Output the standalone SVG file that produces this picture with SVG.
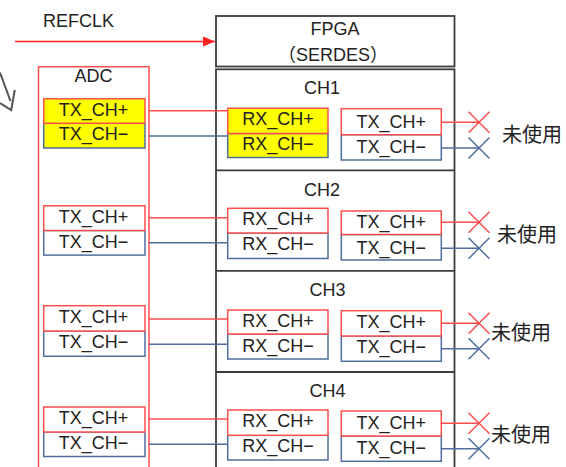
<svg xmlns="http://www.w3.org/2000/svg" width="566" height="467" viewBox="0 0 566 467">
<defs>
<marker id="ah" markerWidth="12" markerHeight="10" refX="12" refY="5" orient="auto" markerUnits="userSpaceOnUse">
<path d="M0,0 L12,5 L0,10 Z" fill="#ff2020"/>
</marker>
</defs>
<style>
text{font-family:"Liberation Sans","Noto Sans CJK JP",sans-serif;font-size:18px;fill:#222;text-anchor:middle}
.j{font-family:"Noto Sans CJK JP",sans-serif;font-size:20px;text-anchor:start}
.l{text-anchor:start}
.bp{fill:#fff;stroke:#ff4d4d;stroke-width:1.5}
.bm{fill:#fff;stroke:#4f6e9e;stroke-width:1.5}
.y{fill:#ffff00}
.fp{fill:#fff;stroke:#3c3c3c;stroke-width:1.8}
.rl{stroke:#ff4d4d;stroke-width:1.5;fill:none}
.bl{stroke:#4f6e9e;stroke-width:1.5;fill:none}
</style>
<rect width="566" height="467" fill="#fff"/>
<g id="arrow-icon" fill="none" stroke="#555" stroke-width="2">
<path d="M0,72.5 L10.5,101"/>
<path d="M14.8,90 L11.2,110 L0,103"/>
</g>
<g id="refclk"><text x="78.5" y="27">REFCLK</text></g>
<g id="fpga">
<rect class="fp" x="216" y="16" width="238.5" height="50.5"/>
<text x="335" y="35">FPGA</text>
<text x="333" y="61">（SERDES）</text>
<rect class="fp" x="216" y="69.3" width="238.5" height="420"/>
<line class="fp" x1="216" y1="170.3" x2="454.5" y2="170.3"/>
<line class="fp" x1="216" y1="270.8" x2="454.5" y2="270.8"/>
<line class="fp" x1="216" y1="372" x2="454.5" y2="372"/>
</g>
<g id="adc">
<rect x="38.5" y="66.7" width="110.5" height="420" fill="none" stroke="#ff4d4d" stroke-width="1.5"/>
<text x="93.5" y="81.5">ADC</text>
</g>
<g id="adc-ch1">
<rect class="bm y" x="43.7" y="123.3" width="101.3" height="24.7"/>
<rect class="bp y" x="43.7" y="98.7" width="101.3" height="24.6"/>
<text x="93.5" y="115.5">TX_CH+</text><text x="93.5" y="140.3">TX_CH−</text>
</g>
<g id="adc-ch2">
<rect class="bm" x="43.7" y="230.5" width="101.3" height="24.6"/>
<rect class="bp" x="43.7" y="205.8" width="101.3" height="24.7"/>
<text x="93.5" y="222.8">TX_CH+</text><text x="93.5" y="247.5">TX_CH−</text>
</g>
<g id="adc-ch3">
<rect class="bm" x="43.7" y="331" width="101.3" height="25.3"/>
<rect class="bp" x="43.7" y="305.7" width="101.3" height="25.3"/>
<text x="93.5" y="323">TX_CH+</text><text x="93.5" y="348">TX_CH−</text>
</g>
<g id="adc-ch4">
<rect class="bm" x="43.7" y="432" width="101.3" height="24.5"/>
<rect class="bp" x="43.7" y="407" width="101.3" height="25"/>
<text x="93.5" y="424">TX_CH+</text><text x="93.5" y="449">TX_CH−</text>
</g>
<g id="ch1">
<text class="l" x="304" y="94.3">CH1</text>
<rect class="bm y" x="227.7" y="133.5" width="100.3" height="24"/>
<rect class="bp y" x="227.7" y="108.2" width="100.3" height="25.3"/>
<text x="278" y="125.2">RX_CH+</text><text x="278" y="150.2">RX_CH−</text>
<rect class="bm" x="341.3" y="134.7" width="100" height="25.3"/>
<rect class="bp" x="341.3" y="108.7" width="100" height="26"/>
<text x="391.3" y="127.5">TX_CH+</text><text x="391.3" y="152.8">TX_CH−</text>
<text class="j" x="502" y="141.5">未使用</text>
</g>
<g id="ch2">
<text class="l" x="304" y="196">CH2</text>
<rect class="bm" x="227.7" y="233" width="100.3" height="25.5"/>
<rect class="bp" x="227.7" y="208.3" width="100.3" height="24.7"/>
<text x="278" y="225.3">RX_CH+</text><text x="278" y="250.3">RX_CH−</text>
<rect class="bm" x="341.3" y="234.5" width="100" height="25.5"/>
<rect class="bp" x="341.3" y="211" width="100" height="23.5"/>
<text x="391.3" y="228.2">TX_CH+</text><text x="391.3" y="253.5">TX_CH−</text>
<text class="j" x="497" y="242">未使用</text>
</g>
<g id="ch3">
<text class="l" x="309.5" y="296">CH3</text>
<rect class="bm" x="227.7" y="334" width="100.3" height="25"/>
<rect class="bp" x="227.7" y="310" width="100.3" height="24"/>
<text x="278" y="326.7">RX_CH+</text><text x="278" y="352.2">RX_CH−</text>
<rect class="bm" x="341.3" y="336" width="100" height="25.3"/>
<rect class="bp" x="341.3" y="310.7" width="100" height="25.3"/>
<text x="391.3" y="328.3">TX_CH+</text><text x="391.3" y="353.3">TX_CH−</text>
<text class="j" x="491" y="340.3">未使用</text>
</g>
<g id="ch4">
<text class="l" x="309.5" y="396.7">CH4</text>
<rect class="bm" x="227.7" y="435.3" width="100.3" height="24.7"/>
<rect class="bp" x="227.7" y="410" width="100.3" height="25.3"/>
<text x="278" y="427">RX_CH+</text><text x="278" y="452.3">RX_CH−</text>
<rect class="bm" x="341.3" y="436" width="100" height="25.3"/>
<rect class="bp" x="341.3" y="411" width="100" height="25"/>
<text x="391.3" y="428.5">TX_CH+</text><text x="391.3" y="453.7">TX_CH−</text>
<text class="j" x="491" y="441.7">未使用</text>
</g>
<g id="connectors">
<line x1="15" y1="41.5" x2="215" y2="41.5" stroke="#ff2020" stroke-width="1.3" marker-end="url(#ah)"/>
<path class="rl" d="M149,110.7 H227.7 M149,217.7 H227.7 M149,319 H227.7 M149,419 H227.7"/>
<path class="bl" d="M149,136 H227.7 M149,242.7 H227.7 M149,344.3 H227.7 M149,444.3 H227.7"/>
<path class="rl" d="M441.3,122.3 H479 M441.3,222.3 H479 M441.3,323.3 H479 M441.3,423.3 H479"/>
<path class="bl" d="M441.3,148 H479 M441.3,248.3 H479 M441.3,348.7 H479 M441.3,448.7 H479"/>
<path class="rl" d="M468.5,111.8 l21,21 m0,-21 l-21,21 M468.5,211.8 l21,21 m0,-21 l-21,21 M468.5,312.8 l21,21 m0,-21 l-21,21 M468.5,412.8 l21,21 m0,-21 l-21,21"/>
<path class="bl" d="M468.5,137.5 l21,21 m0,-21 l-21,21 M468.5,237.8 l21,21 m0,-21 l-21,21 M468.5,338.2 l21,21 m0,-21 l-21,21 M468.5,438.2 l21,21 m0,-21 l-21,21"/>
</g>
</svg>
